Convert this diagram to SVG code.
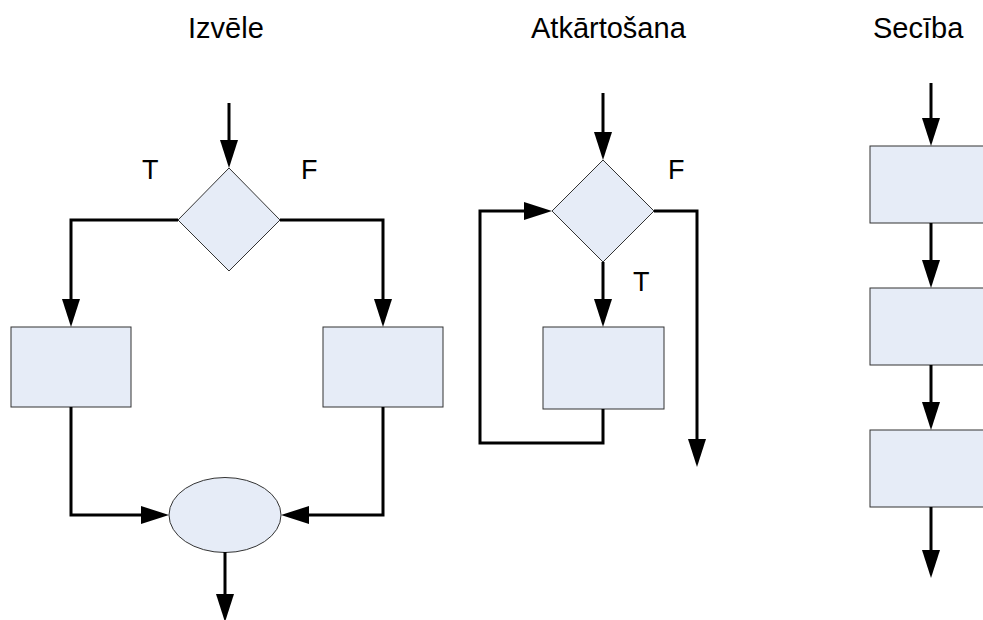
<svg xmlns="http://www.w3.org/2000/svg" width="983" height="620" viewBox="0 0 983 620">
<style>
.title{font-family:"Liberation Sans",Arial,sans-serif;font-size:29px;fill:#000}
.lbl{font-family:"Liberation Sans",Arial,sans-serif;font-size:27px;fill:#000}
.shape{fill:#E6ECF7;stroke:#333;stroke-width:1}
.conn{fill:none;stroke:#000;stroke-width:3;marker-end:url(#ah)}
.line{fill:none;stroke:#000;stroke-width:3}
</style>
<defs>
<marker id="ah" markerUnits="userSpaceOnUse" markerWidth="28" markerHeight="18" refX="18" refY="9" orient="auto" overflow="visible">
<path d="M0,0 L28,9 L0,18 z" fill="#000"/>
</marker>
</defs>
<rect width="983" height="620" fill="#fff"/>
<text class="title" x="188" y="38">Izvēle</text>
<text class="title" x="531" y="38">Atkārtošana</text>
<text class="title" x="873" y="38">Secība</text>

<g id="izvele-decision"><polygon class="shape" points="229,168 280,220 229,271 178,220"/></g>
<g id="izvele-true-box"><rect class="shape" x="11" y="327" width="120" height="80"/></g>
<g id="izvele-false-box"><rect class="shape" x="323" y="327" width="120" height="80"/></g>
<g id="izvele-merge"><ellipse class="shape" cx="225" cy="515" rx="56" ry="37.5"/></g>

<g id="atk-decision"><polygon class="shape" points="603,160 654,211 603,262 552,211"/></g>
<g id="atk-body"><rect class="shape" x="543" y="327" width="121" height="82"/></g>

<g id="sec-1"><rect class="shape" x="870" y="146" width="120" height="77"/></g>
<g id="sec-2"><rect class="shape" x="870" y="288" width="120" height="77"/></g>
<g id="sec-3"><rect class="shape" x="870" y="430" width="120" height="77"/></g>

<g id="connectors">
<path class="conn" d="M229,103 V158"/>
<path class="conn" d="M178,220 H71 V317"/>
<path class="conn" d="M280,220 H383 V317"/>
<path class="conn" d="M71,407 V515 H159"/>
<path class="conn" d="M383,407 V515 H291"/>
<path class="conn" d="M225,552 V612"/>

<path class="conn" d="M603,93 V150"/>
<path class="conn" d="M654,211 H697 V457"/>
<path class="conn" d="M603,262 V317"/>
<path class="conn" d="M603,409 V443 H480 V211 H542"/>

<path class="conn" d="M931,83 V136"/>
<path class="conn" d="M931,223 V278"/>
<path class="conn" d="M931,365 V420"/>
<path class="conn" d="M931,507 V568"/>
</g>

<text class="lbl" x="142" y="179">T</text>
<text class="lbl" x="301" y="179">F</text>
<text class="lbl" x="668" y="179">F</text>
<text class="lbl" x="633" y="291">T</text>
</svg>
